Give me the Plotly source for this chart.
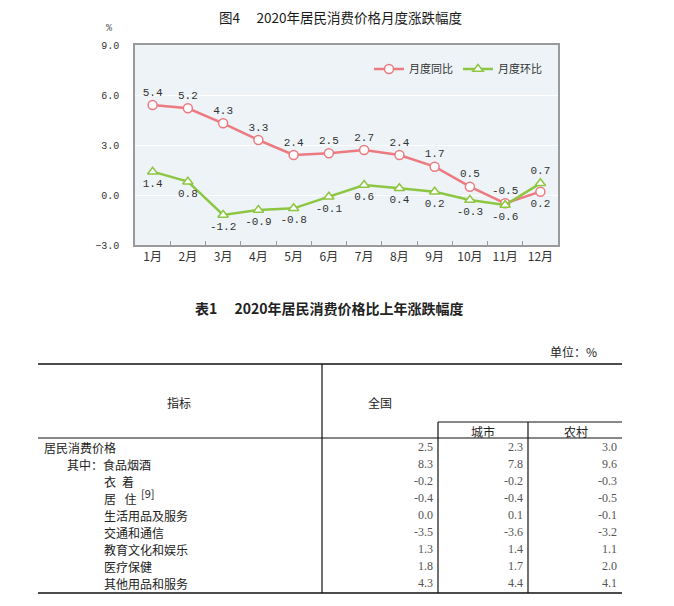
import plotly.graph_objects as go

# page body has an 8px margin: draw a 666x598 figure so that it fills the 674x606 window
OFF = 8
W, H = 674 - OFF, 606 - OFF

# ---------------- data ----------------
months = ["1月", "2月", "3月", "4月", "5月", "6月", "7月", "8月", "9月", "10月", "11月", "12月"]
yoy = [5.4, 5.2, 4.3, 3.3, 2.4, 2.5, 2.7, 2.4, 1.7, 0.5, -0.5, 0.2]
mom = [1.4, 0.8, -1.2, -0.9, -0.8, -0.1, 0.6, 0.4, 0.2, -0.3, -0.6, 0.7]
yticks = [-3.0, 0.0, 3.0, 6.0, 9.0]

indicators = ["居民消费价格", "其中：食品烟酒", "衣\u2002着", "居\u2002\u2009住",
              "生活用品及服务", "交通和通信", "教育文化和娱乐", "医疗保健", "其他用品和服务"]
footnotes = ["", "", "", "[9]", "", "", "", "", ""]
indent = [0, 1, 2, 2, 2, 2, 2, 2, 2]
national = [2.5, 8.3, -0.2, -0.4, 0.0, -3.5, 1.3, 1.8, 4.3]
urban = [2.3, 7.8, -0.2, -0.4, 0.1, -3.6, 1.4, 1.7, 4.4]
rural = [3.0, 9.6, -0.3, -0.5, -0.1, -3.2, 1.1, 2.0, 4.1]

RED = "#EC7A80"
GREEN = "#8DC642"
MONO = "Liberation Mono, DejaVu Sans Mono, monospace"
CJK = "Noto Sans CJK SC, sans-serif"
SERIF = "Liberation Serif, serif"


def px(x):
    return (x - OFF) / W


def py(y):
    return 1 - (y - OFF) / H


yoy_pos = ["top center"] * (len(yoy) - 1) + ["bottom center"]
mom_pos = ["bottom center"] * (len(mom) - 1) + ["top center"]

fig = go.Figure()
fig.add_trace(go.Scatter(
    x=months, y=yoy, name="月度同比", mode="lines+markers+text",
    line=dict(color=RED, width=2.5),
    marker=dict(symbol="circle", size=9, color="white", line=dict(color=RED, width=1.5)),
    text=[f"{v:.1f}" for v in yoy], textposition=yoy_pos,
    textfont=dict(family=MONO, size=11, color="#333"),
    cliponaxis=False,
))
fig.add_trace(go.Scatter(
    x=months, y=mom, name="月度环比", mode="lines+markers+text",
    line=dict(color=GREEN, width=2.5),
    marker=dict(symbol="triangle-up", size=9, color="white", line=dict(color=GREEN, width=1.5)),
    text=[f"{v:.1f}" for v in mom], textposition=mom_pos,
    textfont=dict(family=MONO, size=11, color="#333"),
    cliponaxis=False,
))

shapes = []
ann = []


def text(t, x, y, xa="center", size=12, family=CJK, color="#222", **kw):
    ann.append(dict(text=t, x=px(x), y=py(y), xref="paper", yref="paper",
                    xanchor=xa, yanchor="middle", showarrow=False,
                    font=dict(family=family, size=size, color=color, **kw)))


# chart title and unit
text("图4\u2003 2020年居民消费价格月度涨跌幅度", 340, 16.5, size=13.5, color="#1a1a1a")
text("%", 109, 29, family=MONO, size=10, color="#555")

# ---------------- table ----------------
LINE = "#111"
tl, tr = 38, 622
y_top, y_sub, y_head, y_bot = 364, 422, 438, 593
c1, c2, c3 = 322, 438, 528


def hline(x0, x1, y, w):
    shapes.append(dict(type="line", xref="paper", yref="paper", x0=px(x0), x1=px(x1),
                       y0=py(y), y1=py(y), line=dict(color=LINE, width=w)))


def vline(x, y0, y1, w):
    shapes.append(dict(type="line", xref="paper", yref="paper", x0=px(x), x1=px(x),
                       y0=py(y0), y1=py(y1), line=dict(color=LINE, width=w)))


hline(tl, tr, y_top, 1.5)
hline(c2, tr, y_sub, 1)
hline(tl, tr, y_head, 1.2)
hline(tl, tr, y_bot, 1.5)
vline(c1, y_top, y_bot, 1.2)
vline(c2, y_sub, y_bot, 1.2)
vline(c3, y_sub, y_bot, 1.2)

text("表1\u2003 2020年居民消费价格比上年涨跌幅度", 329, 308, size=14, weight="bold")
text("单位：%", 599, 352, xa="right")

for t, x, y in [("指标", 179, 402), ("全国", 380, 402), ("城市", 483, 431), ("农村", 576, 431)]:
    text(t, x, y)

row0, row_h = 447, 17
indent_x = [42, 65, 102]
for i, name in enumerate(indicators):
    yy = row0 + i * row_h
    text(name, indent_x[indent[i]], yy, xa="left")
    if footnotes[i]:
        text(footnotes[i], 139, yy - 5, xa="left", size=11)
    for vals, xr in [(national, 435), (urban, 525), (rural, 619)]:
        text(f"{vals[i]:.1f}", xr, yy, xa="right", family=SERIF, color="#555")

fig.update_layout(
    width=W, height=H, autosize=False,
    margin=dict(l=0, r=0, t=0, b=0, autoexpand=False),
    paper_bgcolor="white", plot_bgcolor="#EDF3F7",
    showlegend=True,
    legend=dict(orientation="h", x=px(369), xanchor="left", y=py(69), yanchor="middle",
                bgcolor="rgba(0,0,0,0)", itemwidth=30,
                font=dict(family=CJK, size=11, color="#333")),
    xaxis=dict(domain=[px(135), px(558)], type="category", range=[-0.5, 11.5],
               showline=True, mirror=True, linecolor="#9A9A9A", linewidth=1.5,
               ticks="inside", tickson="boundaries", ticklen=4, tickcolor="#9A9A9A",
               showgrid=False, tickfont=dict(family=CJK, size=12, color="#333"),
               fixedrange=True),
    yaxis=dict(domain=[py(245), py(45)], range=[-3, 9], tickvals=yticks, tickformat=".1f",
               showline=True, mirror=True, linecolor="#9A9A9A", linewidth=1.5,
               showgrid=True, gridcolor="white", gridwidth=1, zeroline=False,
               ticks="", ticklabelstandoff=12,
               tickfont=dict(family=MONO, size=10, color="#333"), fixedrange=True),
    shapes=shapes, annotations=ann,
)

fig.write_html("out.html")
